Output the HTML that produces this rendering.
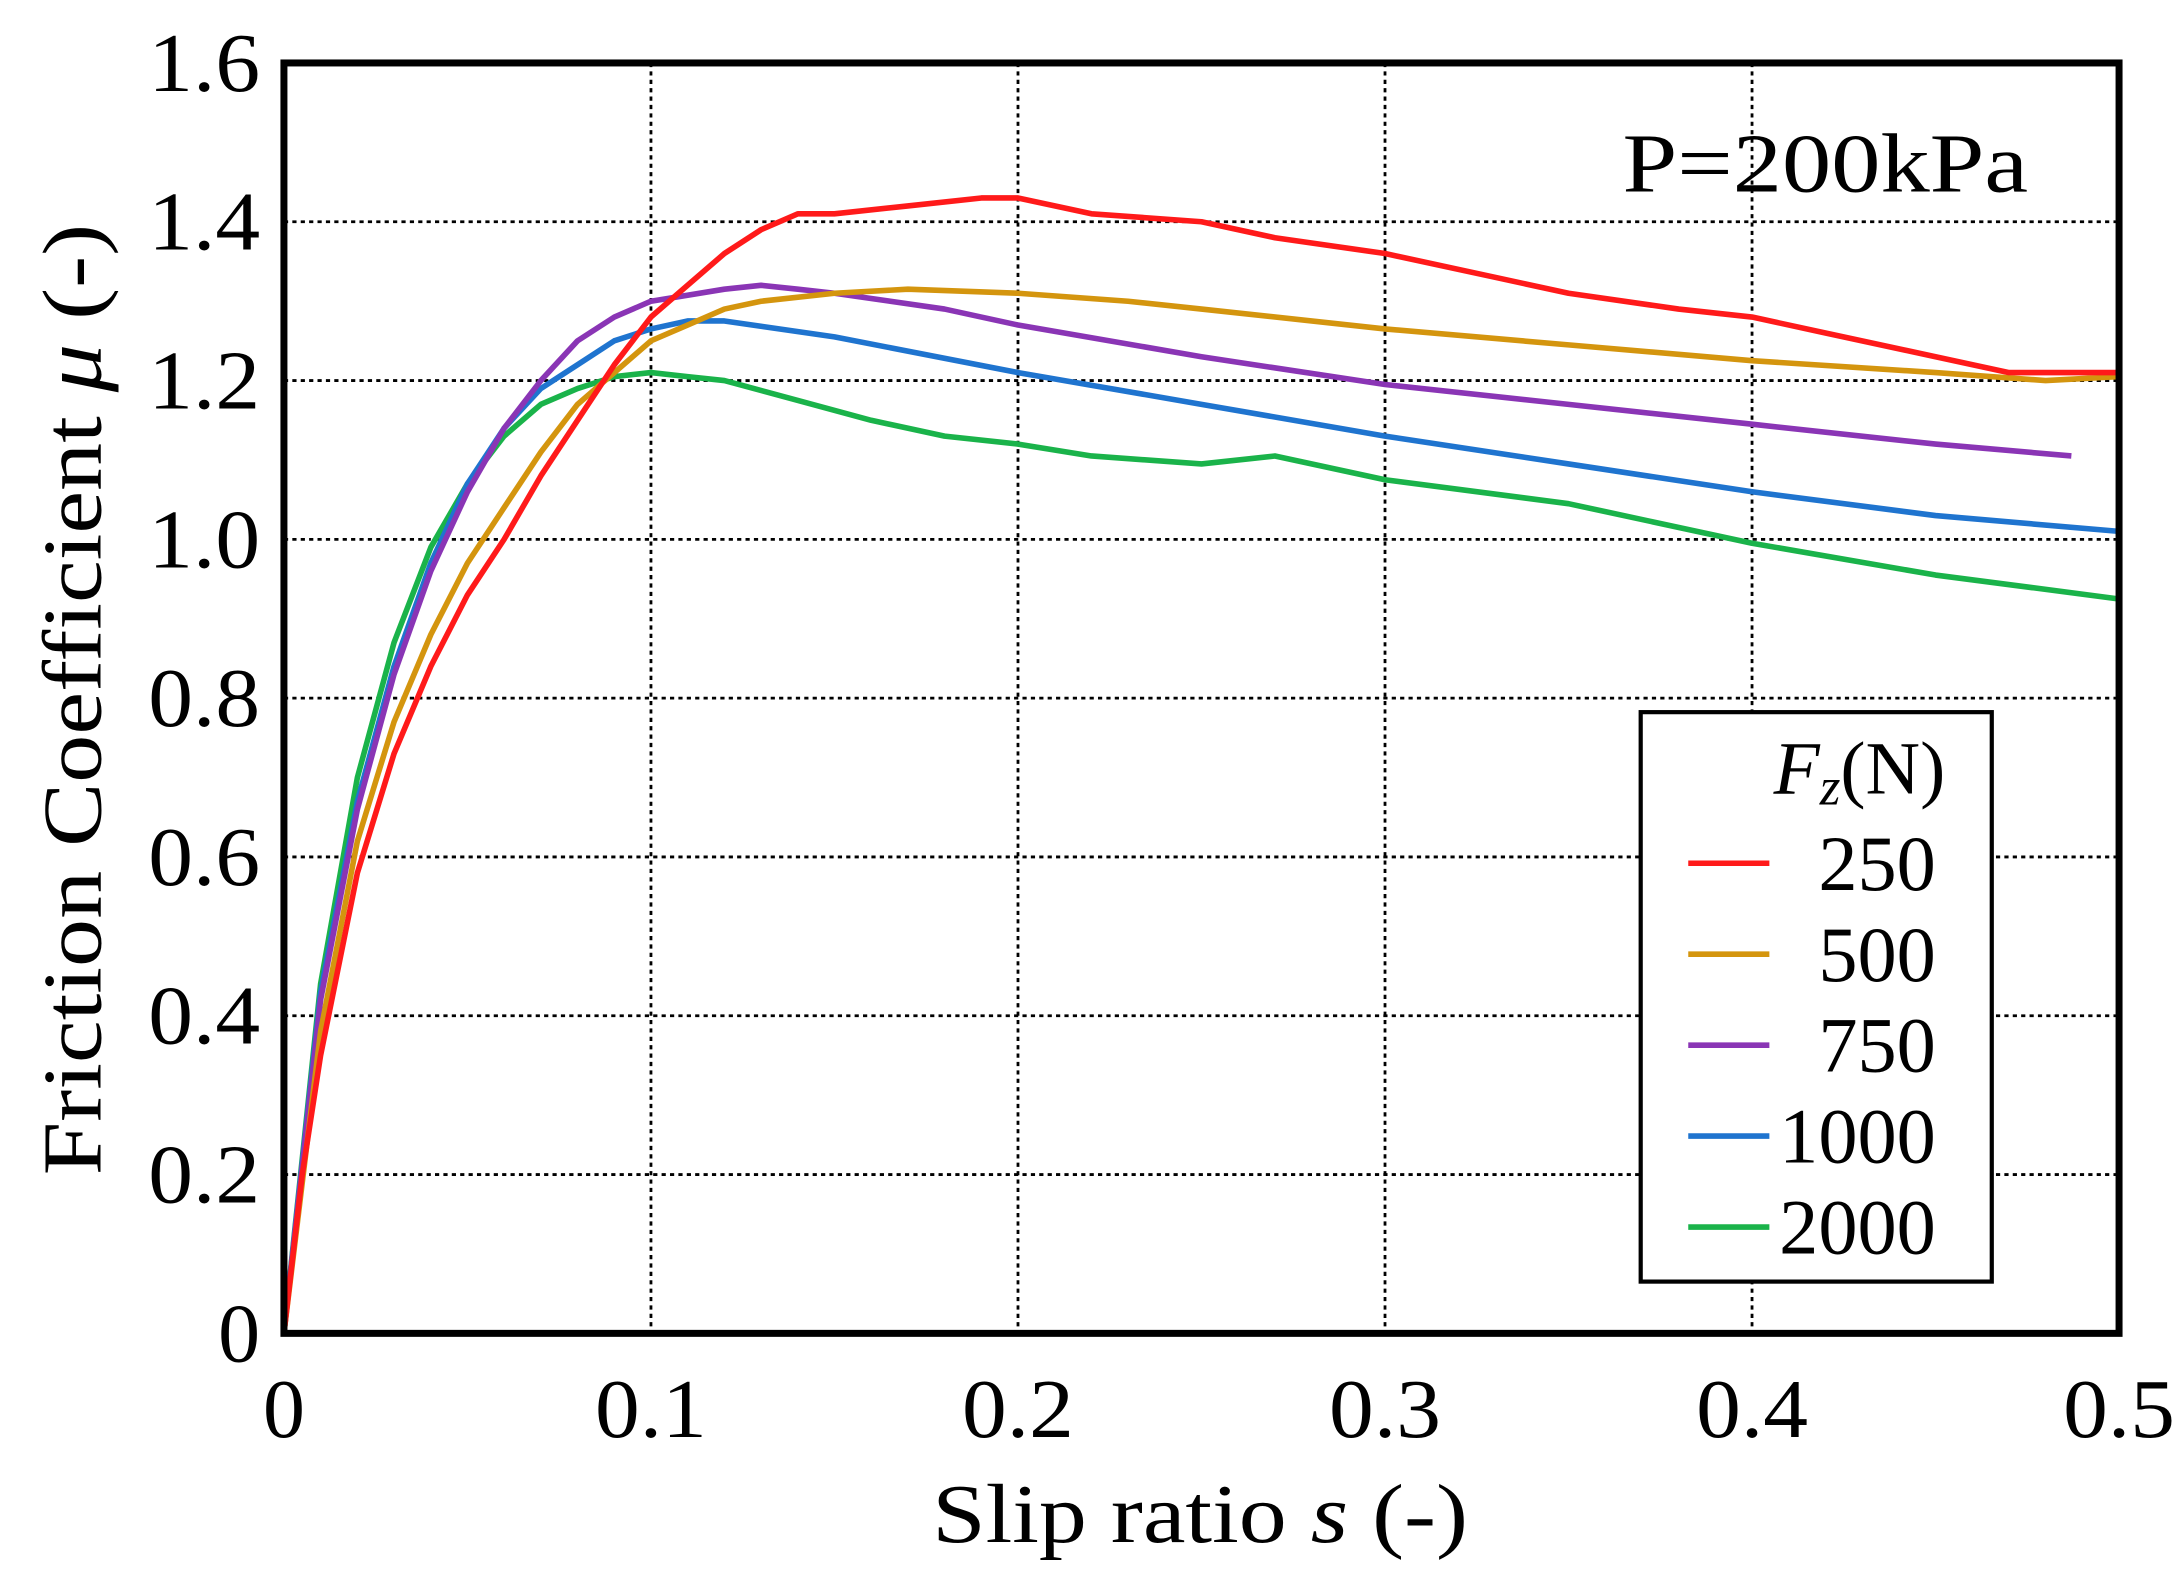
<!DOCTYPE html>
<html><head><meta charset="utf-8"><style>
html,body{margin:0;padding:0;background:#fff;}
svg{display:block;}
text{font-family:"Liberation Serif",serif;fill:#000;}
</style></head><body>
<svg id="chart" width="2182" height="1588" viewBox="0 0 1560 1135" preserveAspectRatio="none" xmlns="http://www.w3.org/2000/svg">
<g id="grid"></g>
<g id="series"></g>
<rect x="203" y="45" width="1312" height="908" fill="none" stroke="#000" stroke-width="5"/>
<g id="ticks"></g>
<text transform="translate(72,500) rotate(-90)" text-anchor="middle" font-size="60" textLength="680" lengthAdjust="spacingAndGlyphs">Friction Coefficient <tspan font-style="italic">μ</tspan> (-)</text>
<text x="858" y="1102" text-anchor="middle" font-size="60" textLength="383" lengthAdjust="spacingAndGlyphs">Slip ratio <tspan font-style="italic">s</tspan> (-)</text>
<text x="1160" y="137" font-size="60" textLength="290" lengthAdjust="spacingAndGlyphs">P=200kPa</text>
<g>
<rect x="1173" y="509" width="251" height="407" fill="#fff" stroke="#000" stroke-width="3"/>
<text x="1268" y="567" font-size="54"><tspan font-style="italic">F</tspan><tspan font-style="italic" font-size="38" dy="8">z</tspan><tspan dy="-8">(N)</tspan></text>
<g id="legend-entries"></g>
</g>
</svg>
<script>
const xTicks=[0,0.1,0.2,0.3,0.4,0.5];
const xTickLabels=["0","0.1","0.2","0.3","0.4","0.5"];
const yTicks=[0,0.2,0.4,0.6,0.8,1.0,1.2,1.4,1.6];
const yTickLabels=["0","0.2","0.4","0.6","0.8","1.0","1.2","1.4","1.6"];
const seriesNames=["250","500","750","1000","2000"];
const seriesColors=["#ff1a1a","#d4950e","#8a35b5","#1f74cf","#1ab34a"];
const s250=[0,0.005,0.01,0.02,0.03,0.04,0.05,0.06,0.07,0.08,0.09,0.1,0.11,0.12,0.13,0.14,0.15,0.17,0.19,0.2,0.22,0.25,0.27,0.3,0.33,0.35,0.38,0.4,0.42,0.45,0.47,0.5];
const m250=[0,0.2,0.35,0.58,0.73,0.84,0.93,1.0,1.08,1.15,1.22,1.28,1.32,1.36,1.39,1.41,1.41,1.42,1.43,1.43,1.41,1.40,1.38,1.36,1.33,1.31,1.29,1.28,1.26,1.23,1.21,1.21];
const s500=[0,0.01,0.02,0.03,0.04,0.05,0.06,0.07,0.08,0.09,0.1,0.11,0.12,0.13,0.15,0.17,0.2,0.23,0.25,0.3,0.35,0.4,0.45,0.48,0.5];
const m500=[0,0.38,0.62,0.77,0.88,0.97,1.04,1.11,1.17,1.21,1.25,1.27,1.29,1.30,1.31,1.315,1.31,1.30,1.29,1.265,1.245,1.225,1.21,1.20,1.205];
const s750=[0,0.01,0.02,0.03,0.04,0.05,0.06,0.07,0.08,0.09,0.1,0.12,0.13,0.14,0.15,0.18,0.2,0.25,0.3,0.35,0.4,0.45,0.487];
const m750=[0,0.42,0.66,0.83,0.96,1.06,1.14,1.20,1.25,1.28,1.30,1.315,1.32,1.315,1.31,1.29,1.27,1.23,1.195,1.17,1.145,1.12,1.105];
const s1000=[0,0.01,0.02,0.03,0.04,0.05,0.06,0.07,0.08,0.09,0.1,0.11,0.12,0.15,0.2,0.25,0.3,0.35,0.4,0.45,0.5];
const m1000=[0,0.43,0.67,0.84,0.97,1.07,1.14,1.19,1.22,1.25,1.265,1.275,1.275,1.255,1.21,1.17,1.13,1.095,1.06,1.03,1.01];
const s2000=[0,0.01,0.02,0.03,0.04,0.05,0.06,0.07,0.08,0.09,0.1,0.11,0.12,0.14,0.16,0.18,0.2,0.22,0.25,0.27,0.3,0.35,0.4,0.45,0.5];
const m2000=[0,0.44,0.70,0.87,0.99,1.07,1.13,1.17,1.19,1.205,1.21,1.205,1.20,1.175,1.15,1.13,1.12,1.105,1.095,1.105,1.075,1.045,0.995,0.955,0.925];
const sData=[s250,s500,s750,s1000,s2000];
const mData=[m250,m500,m750,m1000,m2000];

const NS="http://www.w3.org/2000/svg";
const X0=203,X1=1515,Y0=953,Y1=45;
function xs(v){return X0+(v-0)/(0.5-0)*(X1-X0);}
function ys(v){return Y0-(v-0)/(1.6-0)*(Y0-Y1);}
function mk(tag,attrs,parent){const e=document.createElementNS(NS,tag);for(const k in attrs)e.setAttribute(k,attrs[k]);parent.appendChild(e);return e;}
const grid=document.getElementById('grid');
const ticks=document.getElementById('ticks');
xTicks.forEach((t,i)=>{
  if(i>0&&i<xTicks.length-1){
    const l=mk('line',{x1:xs(t),x2:xs(t),y1:Y1,y2:Y0,stroke:'#000','stroke-width':2,'stroke-dasharray':'3,3'},grid);
    
    
  }
  const tx=mk('text',{x:xs(t),y:1027,'text-anchor':'middle','font-size':60},ticks);
  tx.textContent=xTickLabels[i];
  if(i>0){tx.setAttribute('textLength',80);tx.setAttribute('lengthAdjust','spacingAndGlyphs');}
  
  
});
yTicks.forEach((t,i)=>{
  if(i>0&&i<yTicks.length-1){
    const l=mk('line',{x1:X0,x2:X1,y1:ys(t),y2:ys(t),stroke:'#000','stroke-width':2,'stroke-dasharray':'3,3'},grid);
    
    
  }
  const tx=mk('text',{x:186,y:ys(t)+20,'text-anchor':'end','font-size':60},ticks);
  tx.textContent=yTickLabels[i];
  if(i>0){tx.setAttribute('textLength',80);tx.setAttribute('lengthAdjust','spacingAndGlyphs');}
  
  
});
const sg=document.getElementById('series');
for(let k=seriesNames.length-1;k>=0;k--){
  const d=sData[k].map((s,i)=>(i?'L':'M')+xs(s).toFixed(1)+','+ys(mData[k][i]).toFixed(1)).join('');
  const p=mk('path',{d:d,fill:'none',stroke:seriesColors[k],'stroke-width':4,'stroke-linejoin':'round'},sg);
  
  
}
const le=document.getElementById('legend-entries');
seriesNames.forEach((n,i)=>{
  const y=617+i*65;
  const l=mk('line',{x1:1207,x2:1265,y1:y,y2:y,stroke:seriesColors[i],'stroke-width':4},le);
  
  
  const t=mk('text',{x:1384,y:y+19,'text-anchor':'end','font-size':56},le);
  t.textContent=n;
  
  
});
</script>
</body></html>
